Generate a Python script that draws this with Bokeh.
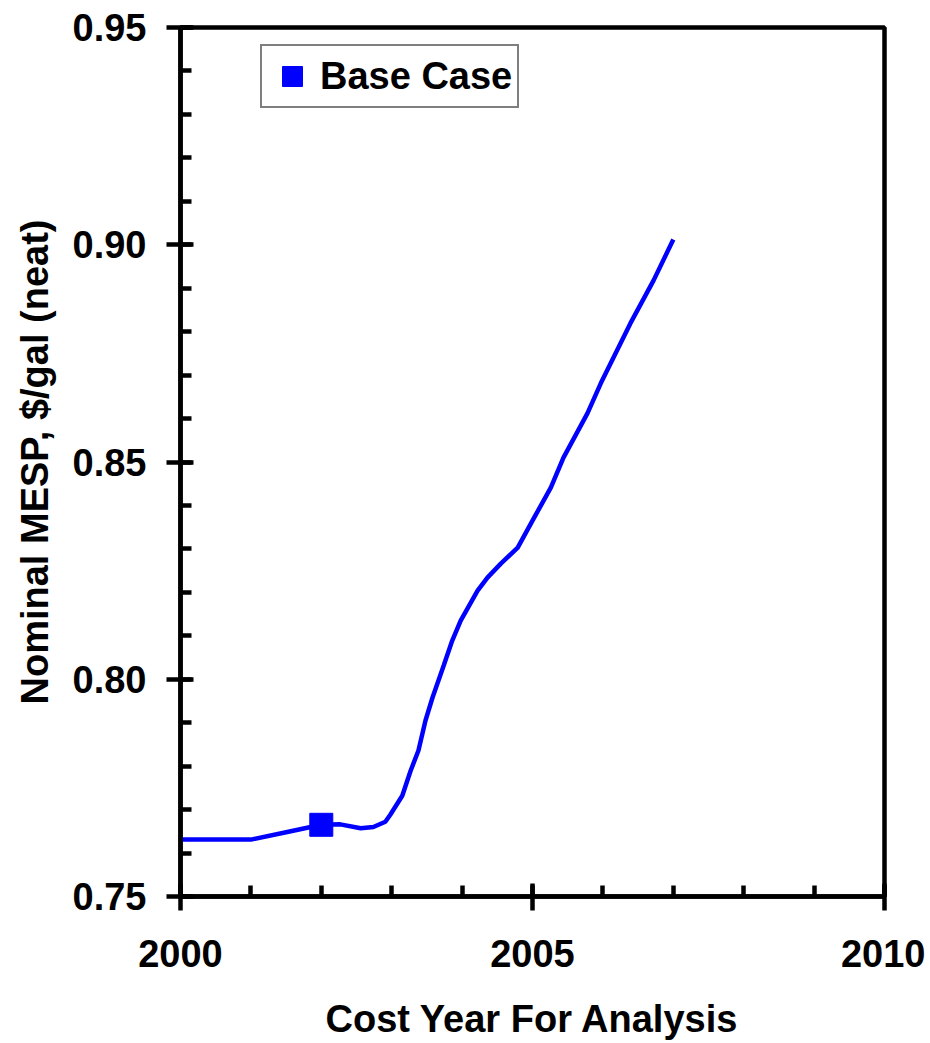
from bokeh.plotting import figure
from bokeh.models import Range1d, SingleIntervalTicker, PrintfTickFormatter, Legend, LegendItem
from bokeh.embed import file_html
from bokeh.resources import INLINE

# Data
years = [2000.0, 2001.0, 2001.5, 2002.0, 2002.27, 2002.56, 2002.74, 2002.91, 2002.98,
         2003.15, 2003.27, 2003.38, 2003.48, 2003.58, 2003.74, 2003.86, 2003.98,
         2004.22, 2004.36, 2004.55, 2004.79, 2005.0, 2005.26, 2005.44, 2005.78,
         2005.97, 2006.39, 2006.72, 2007.0]
mesp = [0.7631, 0.7631, 0.7648, 0.7665, 0.7666, 0.7657, 0.7660, 0.7672, 0.7688,
        0.7732, 0.7790, 0.7836, 0.7905, 0.7958, 0.8032, 0.8089, 0.8135,
        0.8204, 0.8234, 0.8266, 0.8303, 0.8365, 0.8441, 0.8510, 0.8612,
        0.8681, 0.8819, 0.8918, 0.9012]
base_year = [2002.0]
base_mesp = [0.7665]
legend_label = "Base Case"
x_label = "Cost Year For Analysis"
y_label = "Nominal MESP, $/gal (neat)"

FONT = "Liberation Sans"
FS = "38px"

p = figure(width=925, height=1043,
           x_range=Range1d(2000, 2010), y_range=Range1d(0.75, 0.9500001),
           output_backend="svg", toolbar_location=None,
           min_border_left=180, min_border_right=41,
           min_border_top=27, min_border_bottom=147)

p.background_fill_color = "white"
p.border_fill_color = "white"
p.xgrid.visible = False
p.ygrid.visible = False
p.outline_line_color = "black"
p.outline_line_width = 4.5

line = p.line(years, mesp, line_color="#0000FF", line_width=4.5)
pt = p.scatter(base_year, base_mesp, marker="square", size=23,
               fill_color="#0000FF", line_color="#0000FF")

p.xaxis.ticker = SingleIntervalTicker(interval=5, num_minor_ticks=5)
p.yaxis.ticker = SingleIntervalTicker(interval=0.05, num_minor_ticks=5)
p.yaxis.formatter = PrintfTickFormatter(format="%.2f")

for ax in (p.xaxis[0], p.yaxis[0]):
    ax.axis_line_width = 4.5
    ax.axis_line_color = "black"
    ax.major_tick_line_width = 4.5
    ax.minor_tick_line_width = 4.5
    ax.major_tick_in = 13
    ax.major_tick_out = 14
    ax.minor_tick_in = 11
    ax.minor_tick_out = 0
    ax.major_label_text_font = FONT
    ax.major_label_text_font_style = "bold"
    ax.major_label_text_font_size = FS
    ax.major_label_text_color = "black"
    ax.axis_label_text_font = FONT
    ax.axis_label_text_font_style = "bold"
    ax.axis_label_text_font_size = FS
    ax.axis_label_text_color = "black"

p.xaxis.axis_label = x_label
p.yaxis.axis_label = y_label
p.xaxis.major_label_standoff = 29
p.xaxis.axis_label_standoff = 28
p.yaxis.major_label_standoff = 20
p.yaxis.axis_label_standoff = 14

legend = Legend(items=[LegendItem(label=legend_label, renderers=[pt])],
                location=(80, 788), margin=0, padding=5,
                glyph_width=50, glyph_height=50, label_standoff=3,
                label_text_font=FONT, label_text_font_style="bold",
                label_text_font_size=FS, label_text_color="black",
                border_line_color="black", border_line_width=2.5,
                background_fill_color="white", background_fill_alpha=1.0)
p.add_layout(legend, "center")

open("out.html", "w").write(file_html(p, INLINE))
